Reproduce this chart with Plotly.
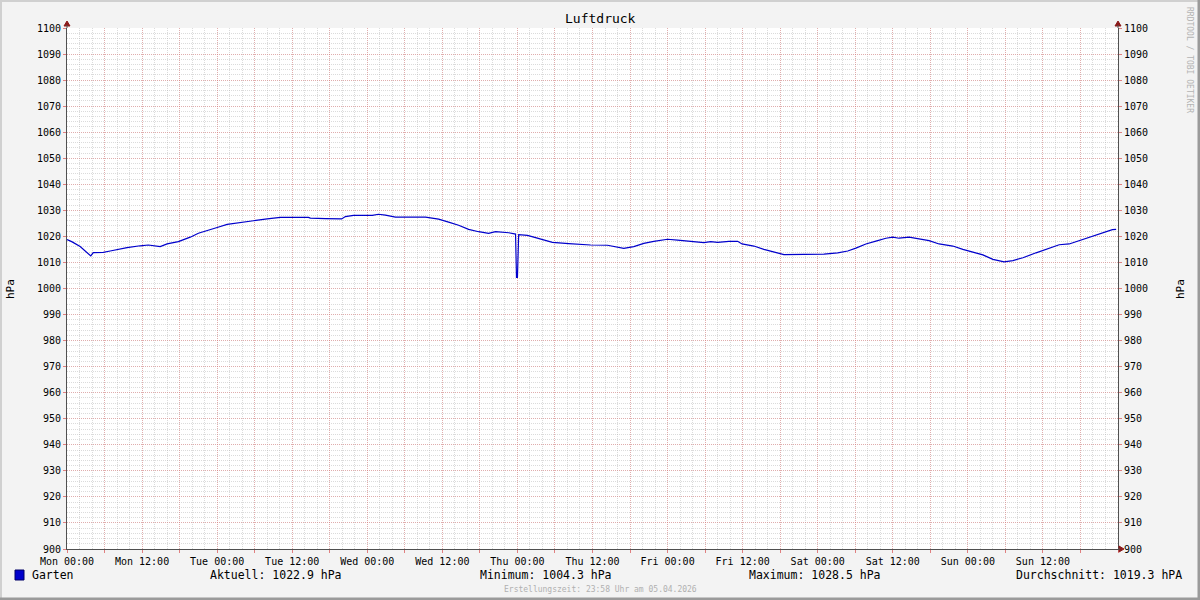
import plotly.graph_objects as go

# ---------------- data ----------------
hours = [0, 0.75, 2.1, 3.8, 4.2, 5.8, 6.9, 9.6, 11.7, 13.0, 14.9, 16.0, 17.8, 19.7, 21.0,
         22.6, 24.0, 25.6, 27.7, 29.8, 32.0, 34.1, 38.6, 38.9, 41.3, 43.9, 44.5, 45.8, 48.8,
         49.8, 50.9, 52.5, 57.3, 59.4, 61.0, 62.6, 64.2, 65.8, 67.4, 68.5, 70.6, 71.7, 71.85,
         72.0, 72.2, 72.5, 73.6, 74.9, 77.6, 80.2, 81.8, 83.7, 86.4, 89.0, 90.6, 92.2, 93.8,
         96.0, 97.6, 99.7, 101.8, 102.9, 104.0, 105.8, 107.2, 107.9, 109.8, 111.4, 113.6,
         114.6, 117.8, 121.0, 123.2, 124.8, 126.1, 127.7, 129.3, 130.9, 132.0, 133.0, 134.6,
         136.2, 137.8, 139.4, 141.6, 143.2, 144.8, 146.4, 148.0, 149.8, 151.2, 152.8, 154.9,
         157.0, 158.6, 160.2, 161.8, 163.9, 165.5, 167.1, 167.7]
pressure = [1018.8, 1018.0, 1016.1, 1012.5, 1013.8, 1013.9, 1014.4, 1015.7, 1016.4, 1016.7,
            1016.1, 1017.1, 1018.0, 1019.7, 1021.2, 1022.5, 1023.4, 1024.6, 1025.4, 1026.0,
            1026.7, 1027.3, 1027.3, 1027.0, 1026.8, 1026.7, 1027.6, 1028.1, 1028.1, 1028.5,
            1028.2, 1027.4, 1027.4, 1026.6, 1025.5, 1024.3, 1022.7, 1021.8, 1021.2, 1021.8,
            1021.4, 1020.9, 1004.3, 1004.3, 1020.7, 1020.6, 1020.4, 1019.5, 1017.7, 1017.2,
            1016.9, 1016.7, 1016.6, 1015.4, 1016.1, 1017.3, 1018.1, 1018.9, 1018.6, 1018.1,
            1017.6, 1018.0, 1017.7, 1018.1, 1018.1, 1017.1, 1016.3, 1015.0, 1013.6, 1013.0,
            1013.1, 1013.2, 1013.7, 1014.4, 1015.5, 1017.1, 1018.2, 1019.3, 1019.7, 1019.3,
            1019.7, 1019.0, 1018.4, 1017.1, 1016.3, 1015.0, 1013.9, 1012.9, 1011.2, 1010.2,
            1010.7, 1011.8, 1013.7, 1015.5, 1016.8, 1017.1, 1018.4, 1020.2, 1021.4, 1022.6,
            1022.7]

days = ["Mon", "Tue", "Wed", "Thu", "Fri", "Sat", "Sun"]
tick_hours = list(range(0, 169, 6))
tick_labels = [(f"{days[h // 24]} {h % 24:02d}:00" if (h % 12 == 0 and h < 168) else "")
               for h in tick_hours]
y_ticks = list(range(900, 1101, 10))

series_name = "Garten"
aktuell = 1022.9
minimum = 1004.3
maximum = 1028.5
durchschnitt = 1019.3
title = "Luftdruck"
unit_label = "hPa"
footer = "Erstellungszeit: 23:58 Uhr am 05.04.2026"
watermark = "RRDTOOL / TOBI OETIKER"

# ---------------- styles ----------------
FONT = "DejaVu Sans Mono"
MAJOR = "rgba(230,110,110,0.42)"
MINOR = "rgba(170,170,170,0.42)"
AXIS = "#505050"
ARROW = "#8b1a1a"
BLUE = "#0000cc"

L, R, T, B = 67, 82, 28, 51
W = 1200 - L - R
H = 600 - T - B


def px(xp):
    return (xp - L) / W


def py(yp):
    return (600 - B - yp) / H


fig = go.Figure()
fig.add_trace(go.Scatter(x=hours, y=pressure, mode="lines",
                         line=dict(color=BLUE, width=1.2), showlegend=False,
                         hoverinfo="x+y"))
fig.add_trace(go.Scatter(x=hours, y=pressure, mode="lines", yaxis="y2",
                         line=dict(color="rgba(0,0,0,0)", width=0), showlegend=False,
                         hoverinfo="skip"))

yax = dict(range=[900, 1100], tickvals=y_ticks, ticktext=[str(v) for v in y_ticks],
           showgrid=True, gridcolor=MAJOR, griddash="1px,1px", gridwidth=1,
           minor=dict(dtick=2, showgrid=True, gridcolor=MINOR, griddash="1px,1px",
                      ticks=""),
           ticks="outside", ticklen=3, tickcolor="#e08080",
           showline=True, linecolor=AXIS, linewidth=1,
           tickfont=dict(family=FONT, size=10, color="#000"),
           zeroline=False, fixedrange=True)

fig.update_layout(
    width=1200, height=600,
    margin=dict(l=L, r=R, t=T, b=B, pad=0),
    paper_bgcolor="#f3f3f3", plot_bgcolor="#ffffff",
    font=dict(family=FONT, color="#000"),
    xaxis=dict(range=[0, 168], tickvals=tick_hours, ticktext=tick_labels,
               showgrid=True, gridcolor=MAJOR, griddash="1px,1px", gridwidth=1,
               minor=dict(dtick=2, showgrid=True, gridcolor=MINOR, griddash="1px,1px",
                          ticks=""),
               ticks="outside", ticklen=3, tickcolor="#e08080",
               showline=True, linecolor=AXIS, linewidth=1,
               tickfont=dict(family=FONT, size=10, color="#000"),
               zeroline=False, fixedrange=True),
    yaxis=yax,
    yaxis2=dict(yax, overlaying="y", side="right", showgrid=False,
                minor=dict(showgrid=False)),
)

# ---- texts ----
ann = []
ann.append(dict(text=title, x=px(600), y=py(19), xref="paper", yref="paper",
                showarrow=False, font=dict(family=FONT, size=13, color="#000"),
                xanchor="center", yanchor="middle"))
ann.append(dict(text=unit_label, x=px(10), y=py(289), xref="paper", yref="paper",
                showarrow=False, textangle=-90, font=dict(family=FONT, size=11),
                xanchor="center", yanchor="middle"))
ann.append(dict(text=unit_label, x=px(1180), y=py(289), xref="paper", yref="paper",
                showarrow=False, textangle=-90, font=dict(family=FONT, size=11),
                xanchor="center", yanchor="middle"))
ann.append(dict(text=watermark, x=px(1190), y=py(60), xref="paper", yref="paper",
                showarrow=False, textangle=90,
                font=dict(family=FONT, size=8, color="#b4b4b4"),
                xanchor="center", yanchor="middle"))
legend_font = dict(family=FONT, size=11.5, color="#000")
ann.append(dict(text=series_name, x=px(30), y=py(575), xref="paper", yref="paper",
                showarrow=False, font=legend_font, xanchor="left", yanchor="middle"))
ann.append(dict(text=f"Aktuell: {aktuell:.1f} hPa", x=px(208), y=py(575), xref="paper",
                yref="paper", showarrow=False, font=legend_font, xanchor="left",
                yanchor="middle"))
ann.append(dict(text=f"Minimum: {minimum:.1f} hPa", x=px(478), y=py(575), xref="paper",
                yref="paper", showarrow=False, font=legend_font, xanchor="left",
                yanchor="middle"))
ann.append(dict(text=f"Maximum: {maximum:.1f} hPa", x=px(747), y=py(575), xref="paper",
                yref="paper", showarrow=False, font=legend_font, xanchor="left",
                yanchor="middle"))
ann.append(dict(text=f"Durchschnitt: {durchschnitt:.1f} hPA", x=px(1184), y=py(575),
                xref="paper", yref="paper", showarrow=False, font=legend_font,
                xanchor="right", yanchor="middle"))
ann.append(dict(text=footer, x=px(600), y=py(589), xref="paper", yref="paper",
                showarrow=False, font=dict(family=FONT, size=8, color="#b0b0b0"),
                xanchor="center", yanchor="middle"))
fig.update_layout(annotations=ann)

# ---- decorations: legend swatch, arrows, frame ----
shapes = []
shapes.append(dict(type="rect", xref="paper", yref="paper", xsizemode="pixel",
                   ysizemode="pixel", xanchor=0, yanchor=0, x0=15 - L, x1=24 - L,
                   y0=-(580 - 549), y1=-(570 - 549), fillcolor=BLUE,
                   line=dict(color="#000066", width=1)))
for xa in (0, 1):
    shapes.append(dict(type="path", xref="paper", yref="paper", xsizemode="pixel",
                       ysizemode="pixel", xanchor=xa, yanchor=1,
                       path="M -3,2 L 3,2 L 0,7 Z", fillcolor=ARROW,
                       line=dict(color=ARROW, width=1)))
    shapes.append(dict(type="line", xref="paper", yref="paper", xsizemode="pixel",
                       ysizemode="pixel", xanchor=xa, yanchor=1, x0=0, x1=0, y0=0, y1=3,
                       line=dict(color=AXIS, width=1)))
shapes.append(dict(type="path", xref="paper", yref="paper", xsizemode="pixel",
                   ysizemode="pixel", xanchor=1, yanchor=0,
                   path="M 1,-3 L 1,3 L 6,0 Z", fillcolor=ARROW,
                   line=dict(color=ARROW, width=1)))
shapes.append(dict(type="line", xref="paper", yref="paper", xsizemode="pixel",
                   ysizemode="pixel", xanchor=1, yanchor=0, x0=0, x1=2, y0=0, y1=0,
                   line=dict(color=AXIS, width=1)))
# outer frame
shapes.append(dict(type="line", xref="paper", yref="paper", xsizemode="pixel",
                   ysizemode="pixel", xanchor=0, yanchor=0, x0=-L, x1=1200 - L,
                   y0=600 - B - 1, y1=600 - B - 1, line=dict(color="#d0d0d0", width=2)))
shapes.append(dict(type="line", xref="paper", yref="paper", xsizemode="pixel",
                   ysizemode="pixel", xanchor=0, yanchor=0, x0=-L + 1, x1=-L + 1,
                   y0=-B, y1=600 - B, line=dict(color="#d0d0d0", width=2)))
shapes.append(dict(type="line", xref="paper", yref="paper", xsizemode="pixel",
                   ysizemode="pixel", xanchor=0, yanchor=0, x0=-L, x1=1200 - L,
                   y0=-B + 1, y1=-B + 1, line=dict(color="#9a9a9a", width=3)))
shapes.append(dict(type="line", xref="paper", yref="paper", xsizemode="pixel",
                   ysizemode="pixel", xanchor=0, yanchor=0, x0=1200 - L - 1,
                   x1=1200 - L - 1, y0=-B, y1=600 - B,
                   line=dict(color="#9a9a9a", width=3)))
fig.update_layout(shapes=shapes)

fig.write_html("out.html",
               config={"displayModeBar": False},
               post_script="document.body.style.margin='0px';"
                           "document.body.style.overflow='hidden';")
